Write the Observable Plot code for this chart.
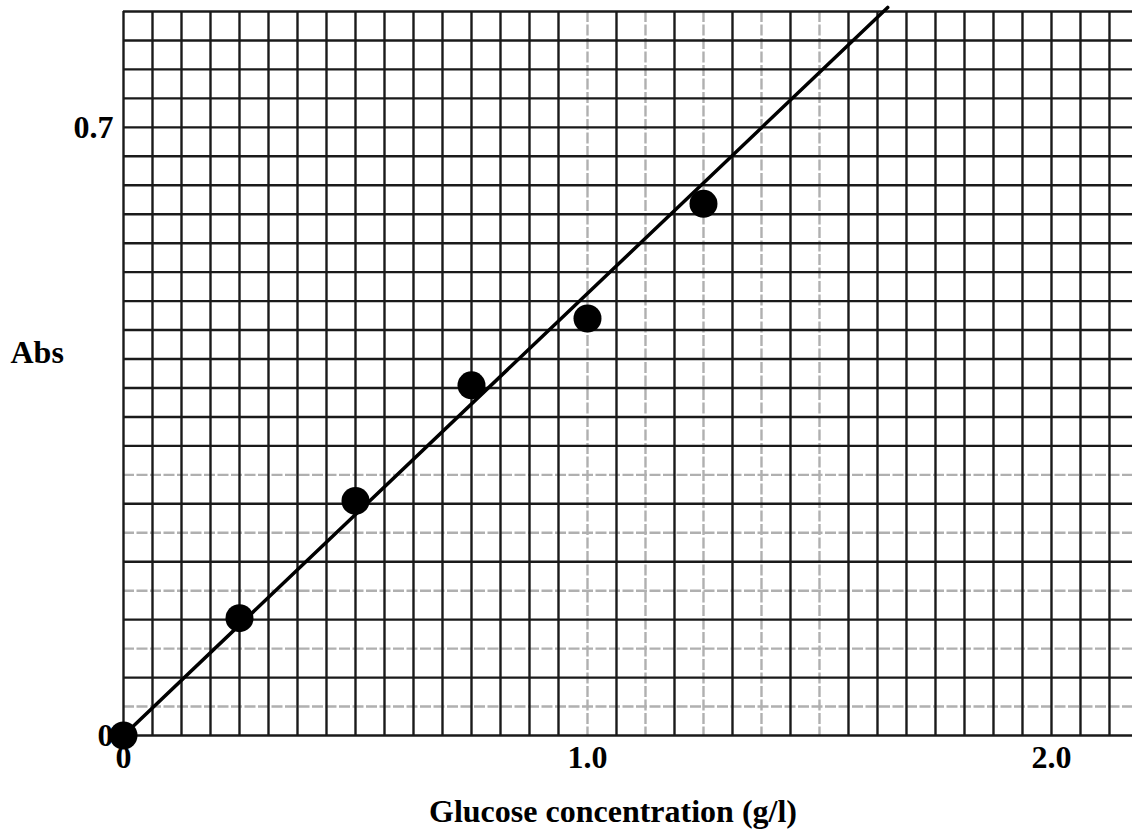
<!DOCTYPE html>
<html>
<head>
<meta charset="utf-8">
<script src="https://cdn.jsdelivr.net/npm/d3@7"></script>
<script src="https://cdn.jsdelivr.net/npm/@observablehq/plot@0.6"></script>
<style>
  html, body { margin: 0; padding: 0; background: #fff; }
  #chart svg { display: block; }
</style>
</head>
<body>
<div id="chart"></div>
<script>
// Measured data: glucose concentration (g/l) vs absorbance
const concentration = [0, 0.25, 0.5, 0.75, 1.0, 1.25];
const absorbance = [0, 0.135, 0.27, 0.403, 0.48, 0.612];

// Straight calibration line drawn through the origin (end points)
const fitX = [0, 1.647];
const fitY = [0, 0.838];

// Tick labels
const xTicks = [0, 1.0, 2.0];
const xTickLabels = ["0", "1.0", "2.0"];
const yTicks = [0, 0.7];
const yTickLabels = ["0", "0.7"];

// Graph-paper grid: vertical every 1/16 g/l, horizontal every 1/30 Abs
const xGridAll = d3.range(0, 35).map(k => k / 16);
const xGridGray = [1.0, 1.125, 1.25, 1.375, 1.5];
const yGridAll = d3.range(0, 26).map(k => k / 30);
const yGridGray = [1, 3, 5, 7, 9].map(k => k / 30);

const isIn = (arr, v) => arr.some(a => Math.abs(a - v) < 1e-9);
const xGridBlack = xGridAll.filter(v => !isIn(xGridGray, v));
const yGridBlack = yGridAll.filter(v => !isIn(yGridGray, v));

const points = concentration.map((c, i) => ({c, a: absorbance[i]}));
const fit = fitX.map((x, i) => ({x, y: fitY[i]}));

const font = "'Liberation Serif', 'Times New Roman', serif";

const chart = Plot.plot({
  width: 1132,
  height: 835,
  marginLeft: 123,
  marginRight: 0,
  marginTop: 11,
  marginBottom: 100,
  style: {background: "white", color: "black", fontFamily: font},
  x: {domain: [0, 2.1746]},
  y: {domain: [0, 25 / 30]},
  marks: [
    Plot.ruleX(xGridGray, {stroke: "#b0b0b0", strokeWidth: 2.4, strokeDasharray: "11,2.5"}),
    Plot.ruleY(yGridGray, {stroke: "#b0b0b0", strokeWidth: 2.4, strokeDasharray: "11,2.5"}),
    Plot.ruleX(xGridBlack, {stroke: "#1a1a1a", strokeWidth: 2.4}),
    Plot.ruleY(yGridBlack, {stroke: "#1a1a1a", strokeWidth: 2.4}),
    Plot.axisX({
      ticks: xTicks, tickSize: 0, tickPadding: 10,
      tickFormat: d => xTickLabels[xTicks.indexOf(d)],
      fontSize: 32, fontWeight: "bold", fontFamily: font, fill: "black", label: null
    }),
    Plot.axisY({
      ticks: yTicks, tickSize: 0, tickPadding: 10,
      tickFormat: d => yTickLabels[yTicks.indexOf(d)],
      fontSize: 32, fontWeight: "bold", fontFamily: font, fill: "black", label: null
    }),
    Plot.text(["Abs"], {
      frameAnchor: "left", textAnchor: "start", dx: -113, dy: -21,
      fontSize: 32, fontWeight: "bold", fontFamily: font, fill: "black"
    }),
    Plot.text(["Glucose concentration (g/l)"], {
      frameAnchor: "bottom", dx: -15, dy: 86,
      fontSize: 32, fontWeight: "bold", fontFamily: font, fill: "black"
    }),
    Plot.line(fit, {x: "x", y: "y", stroke: "black", strokeWidth: 3.5}),
    Plot.dot(points, {x: "c", y: "a", r: 14, fill: "black", stroke: "none"})
  ]
});

document.getElementById("chart").appendChild(chart);
</script>
</body>
</html>
